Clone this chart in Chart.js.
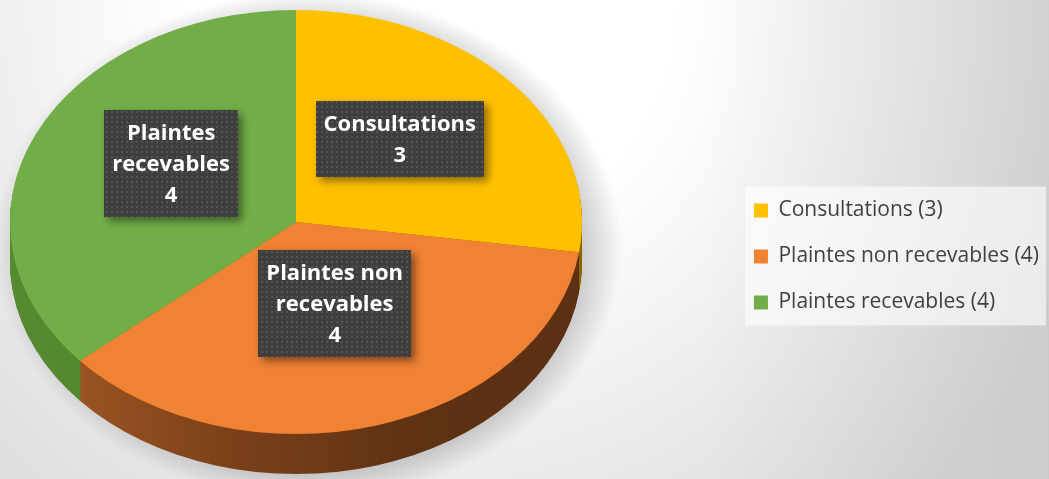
<!DOCTYPE html>
<html>
<head>
<meta charset="utf-8">
<script src="https://cdn.jsdelivr.net/npm/chart.js@4.4.0/dist/chart.umd.min.js"></script>
<style>
  html, body { margin: 0; padding: 0; overflow: hidden; background: #fff; }
  #wrap { width: 1049px; height: 479px; }
</style>
</head>
<body>
<div id="wrap"><canvas id="pieChart"></canvas></div>
<script>
var categories = ["Consultations", "Plaintes non recevables", "Plaintes recevables"];
var counts = [3, 4, 4];
var topColors = ["#ffc000", "#f08233", "#72ae48"];

// where the tilted pie sits on the page
var PIE = { cx: 296, cy: 222, rx: 286, ry: 212, depth: 40 };

function pieTransform(ctx, arc, dy) {
  ctx.translate(PIE.cx, PIE.cy + dy);
  ctx.scale(PIE.rx / arc.outerRadius, PIE.ry / arc.outerRadius);
  ctx.translate(-arc.x, -arc.y);
}

function drawArcWith(ctx, arc, fill) {
  var saved = arc.options;
  arc.options = Object.assign({}, saved, { backgroundColor: fill, borderWidth: 0 });
  arc.draw(ctx);
  arc.options = saved;
}

function sideFills(ctx, arc) {
  var x0 = arc.x - arc.outerRadius, x1 = arc.x + arc.outerRadius;
  var y = arc.y;
  var g1 = ctx.createLinearGradient(x0, y, x1, y);
  g1.addColorStop(0, "#b08400"); g1.addColorStop(1, "#8a6600");
  var g2 = ctx.createLinearGradient(x0, y, x1, y);
  g2.addColorStop(0, "#a85b26"); g2.addColorStop(0.4, "#7a4019");
  g2.addColorStop(0.7, "#5f3214"); g2.addColorStop(1, "#5c3013");
  var g3 = ctx.createLinearGradient(x0, y, x1, y);
  g3.addColorStop(0, "#568a30"); g3.addColorStop(1, "#4a7a28");
  return [g1, g2, g3];
}

function wrapText(ctx, text, maxW) {
  var words = text.split(" "), lines = [], cur = "";
  words.forEach(function(w) {
    var test = cur ? cur + " " + w : w;
    if (cur && ctx.measureText(test).width > maxW) { lines.push(cur); cur = w; }
    else cur = test;
  });
  if (cur) lines.push(cur);
  return lines;
}

var dotPattern = null;
function getPattern(ctx) {
  if (dotPattern) return dotPattern;
  var c = document.createElement("canvas");
  c.width = 5; c.height = 5;
  var p = c.getContext("2d");
  p.fillStyle = "#3e3e3e"; p.fillRect(0, 0, 5, 5);
  p.fillStyle = "#545454"; p.fillRect(1, 1, 2, 2);
  dotPattern = ctx.createPattern(c, "repeat");
  return dotPattern;
}

var pie3d = {
  id: "pie3d",
  beforeDraw: function(chart) {
    var ctx = chart.ctx, w = chart.width, h = chart.height;
    ctx.save();
    var rg = ctx.createRadialGradient(430, 0, 0, 430, 0, 700);
    rg.addColorStop(0, "#ffffff"); rg.addColorStop(0.35, "#ffffff"); rg.addColorStop(1, "#d8d8d8");
    ctx.fillStyle = rg; ctx.fillRect(0, 0, w, h);
    var lg = ctx.createLinearGradient(700, 0, w, 0);
    lg.addColorStop(0, "rgba(0,0,0,0)"); lg.addColorStop(1, "rgba(0,0,0,0.06)");
    ctx.fillStyle = lg; ctx.fillRect(700, 0, w - 700, h);

    // soft shadow around the pie: radial fade in a squashed circle
    ctx.save();
    ctx.translate(PIE.cx + 12, PIE.cy + PIE.depth / 2 + 4);
    ctx.scale(1, (PIE.ry + PIE.depth / 2) / PIE.rx);
    var sg = ctx.createRadialGradient(0, 0, PIE.rx - 40, 0, 0, PIE.rx + 28);
    sg.addColorStop(0, "rgba(0,0,0,0.30)");
    sg.addColorStop(0.5, "rgba(0,0,0,0.16)");
    sg.addColorStop(1, "rgba(0,0,0,0)");
    ctx.fillStyle = sg;
    ctx.beginPath();
    ctx.arc(0, 0, PIE.rx + 30, 0, Math.PI * 2);
    ctx.fill();
    ctx.restore();

    // legend panel
    var hb = chart.legend.legendHitBoxes;
    if (hb && hb.length) {
      var first = hb[0], last = hb[hb.length - 1];
      var top = first.top + first.height / 2 - 24;
      var bottom = last.top + last.height / 2 + 23;
      ctx.fillStyle = "rgba(255,255,255,0.6)";
      ctx.fillRect(first.left - 9, top, w - 3 - (first.left - 9), bottom - top);
    }
    ctx.restore();
  },
  beforeDatasetsDraw: function(chart) {
    var ctx = chart.ctx;
    var arcs = chart.getDatasetMeta(0).data;
    if (!arcs.length) return false;
    var sides = sideFills(ctx, arcs[0]);

    for (var d = PIE.depth; d >= 1; d--) {
      arcs.forEach(function(arc, i) {
        ctx.save();
        pieTransform(ctx, arc, d);
        drawArcWith(ctx, arc, sides[i]);
        ctx.restore();
      });
    }
    arcs.forEach(function(arc, i) {
      ctx.save();
      pieTransform(ctx, arc, 0);
      drawArcWith(ctx, arc, topColors[i]);
      ctx.restore();
    });

    // data labels
    ctx.save();
    ctx.font = "bold 22px 'Open Sans'";
    ctx.textAlign = "center";
    ctx.textBaseline = "middle";
    arcs.forEach(function(arc, i) {
      var mid = (arc.startAngle + arc.endAngle) / 2;
      var px = PIE.cx + Math.cos(mid) * PIE.rx * 0.48;
      var py = PIE.cy + Math.sin(mid) * PIE.ry * 0.48 - 16;
      var lines = wrapText(ctx, categories[i], 145).concat([String(counts[i])]);
      var maxW = 0;
      lines.forEach(function(l) { maxW = Math.max(maxW, ctx.measureText(l).width); });
      var lh = 31;
      var bw = Math.round(maxW + 16), bh = lines.length * lh + 14;
      var bx = Math.round(px - bw / 2), by = Math.round(py - bh / 2);
      ctx.save();
      ctx.shadowColor = "rgba(0,0,0,0.45)";
      ctx.shadowBlur = 8;
      ctx.shadowOffsetX = 4;
      ctx.shadowOffsetY = 4;
      ctx.fillStyle = getPattern(ctx);
      ctx.fillRect(bx, by, bw, bh);
      ctx.restore();
      ctx.fillStyle = "#ffffff";
      lines.forEach(function(l, k) {
        ctx.fillText(l, px, by + 7 + lh / 2 + k * lh + 1);
      });
    });
    ctx.restore();
    return false;
  }
};

var ctx = document.getElementById("pieChart").getContext("2d");
new Chart(ctx, {
  type: "pie",
  data: {
    labels: categories,
    datasets: [{
      data: counts,
      backgroundColor: topColors,
      borderWidth: 0
    }]
  },
  options: {
    responsive: true,
    maintainAspectRatio: false,
    animation: false,
    events: [],
    layout: { padding: { top: 34, right: 0 } },
    plugins: {
      tooltip: { enabled: false },
      legend: {
        position: "right",
        labels: {
          boxWidth: 14,
          boxHeight: 14,
          padding: 25,
          color: "#404040",
          font: { family: "Open Sans", size: 21 },
          generateLabels: function(chart) {
            var items = Chart.overrides.pie.plugins.legend.labels.generateLabels(chart);
            items.forEach(function(it) {
              it.text = categories[it.index] + " (" + counts[it.index] + ")";
              it.lineWidth = 0;
              it.strokeStyle = "rgba(0,0,0,0)";
            });
            return items;
          }
        }
      }
    }
  },
  plugins: [pie3d]
});
</script>
</body>
</html>
